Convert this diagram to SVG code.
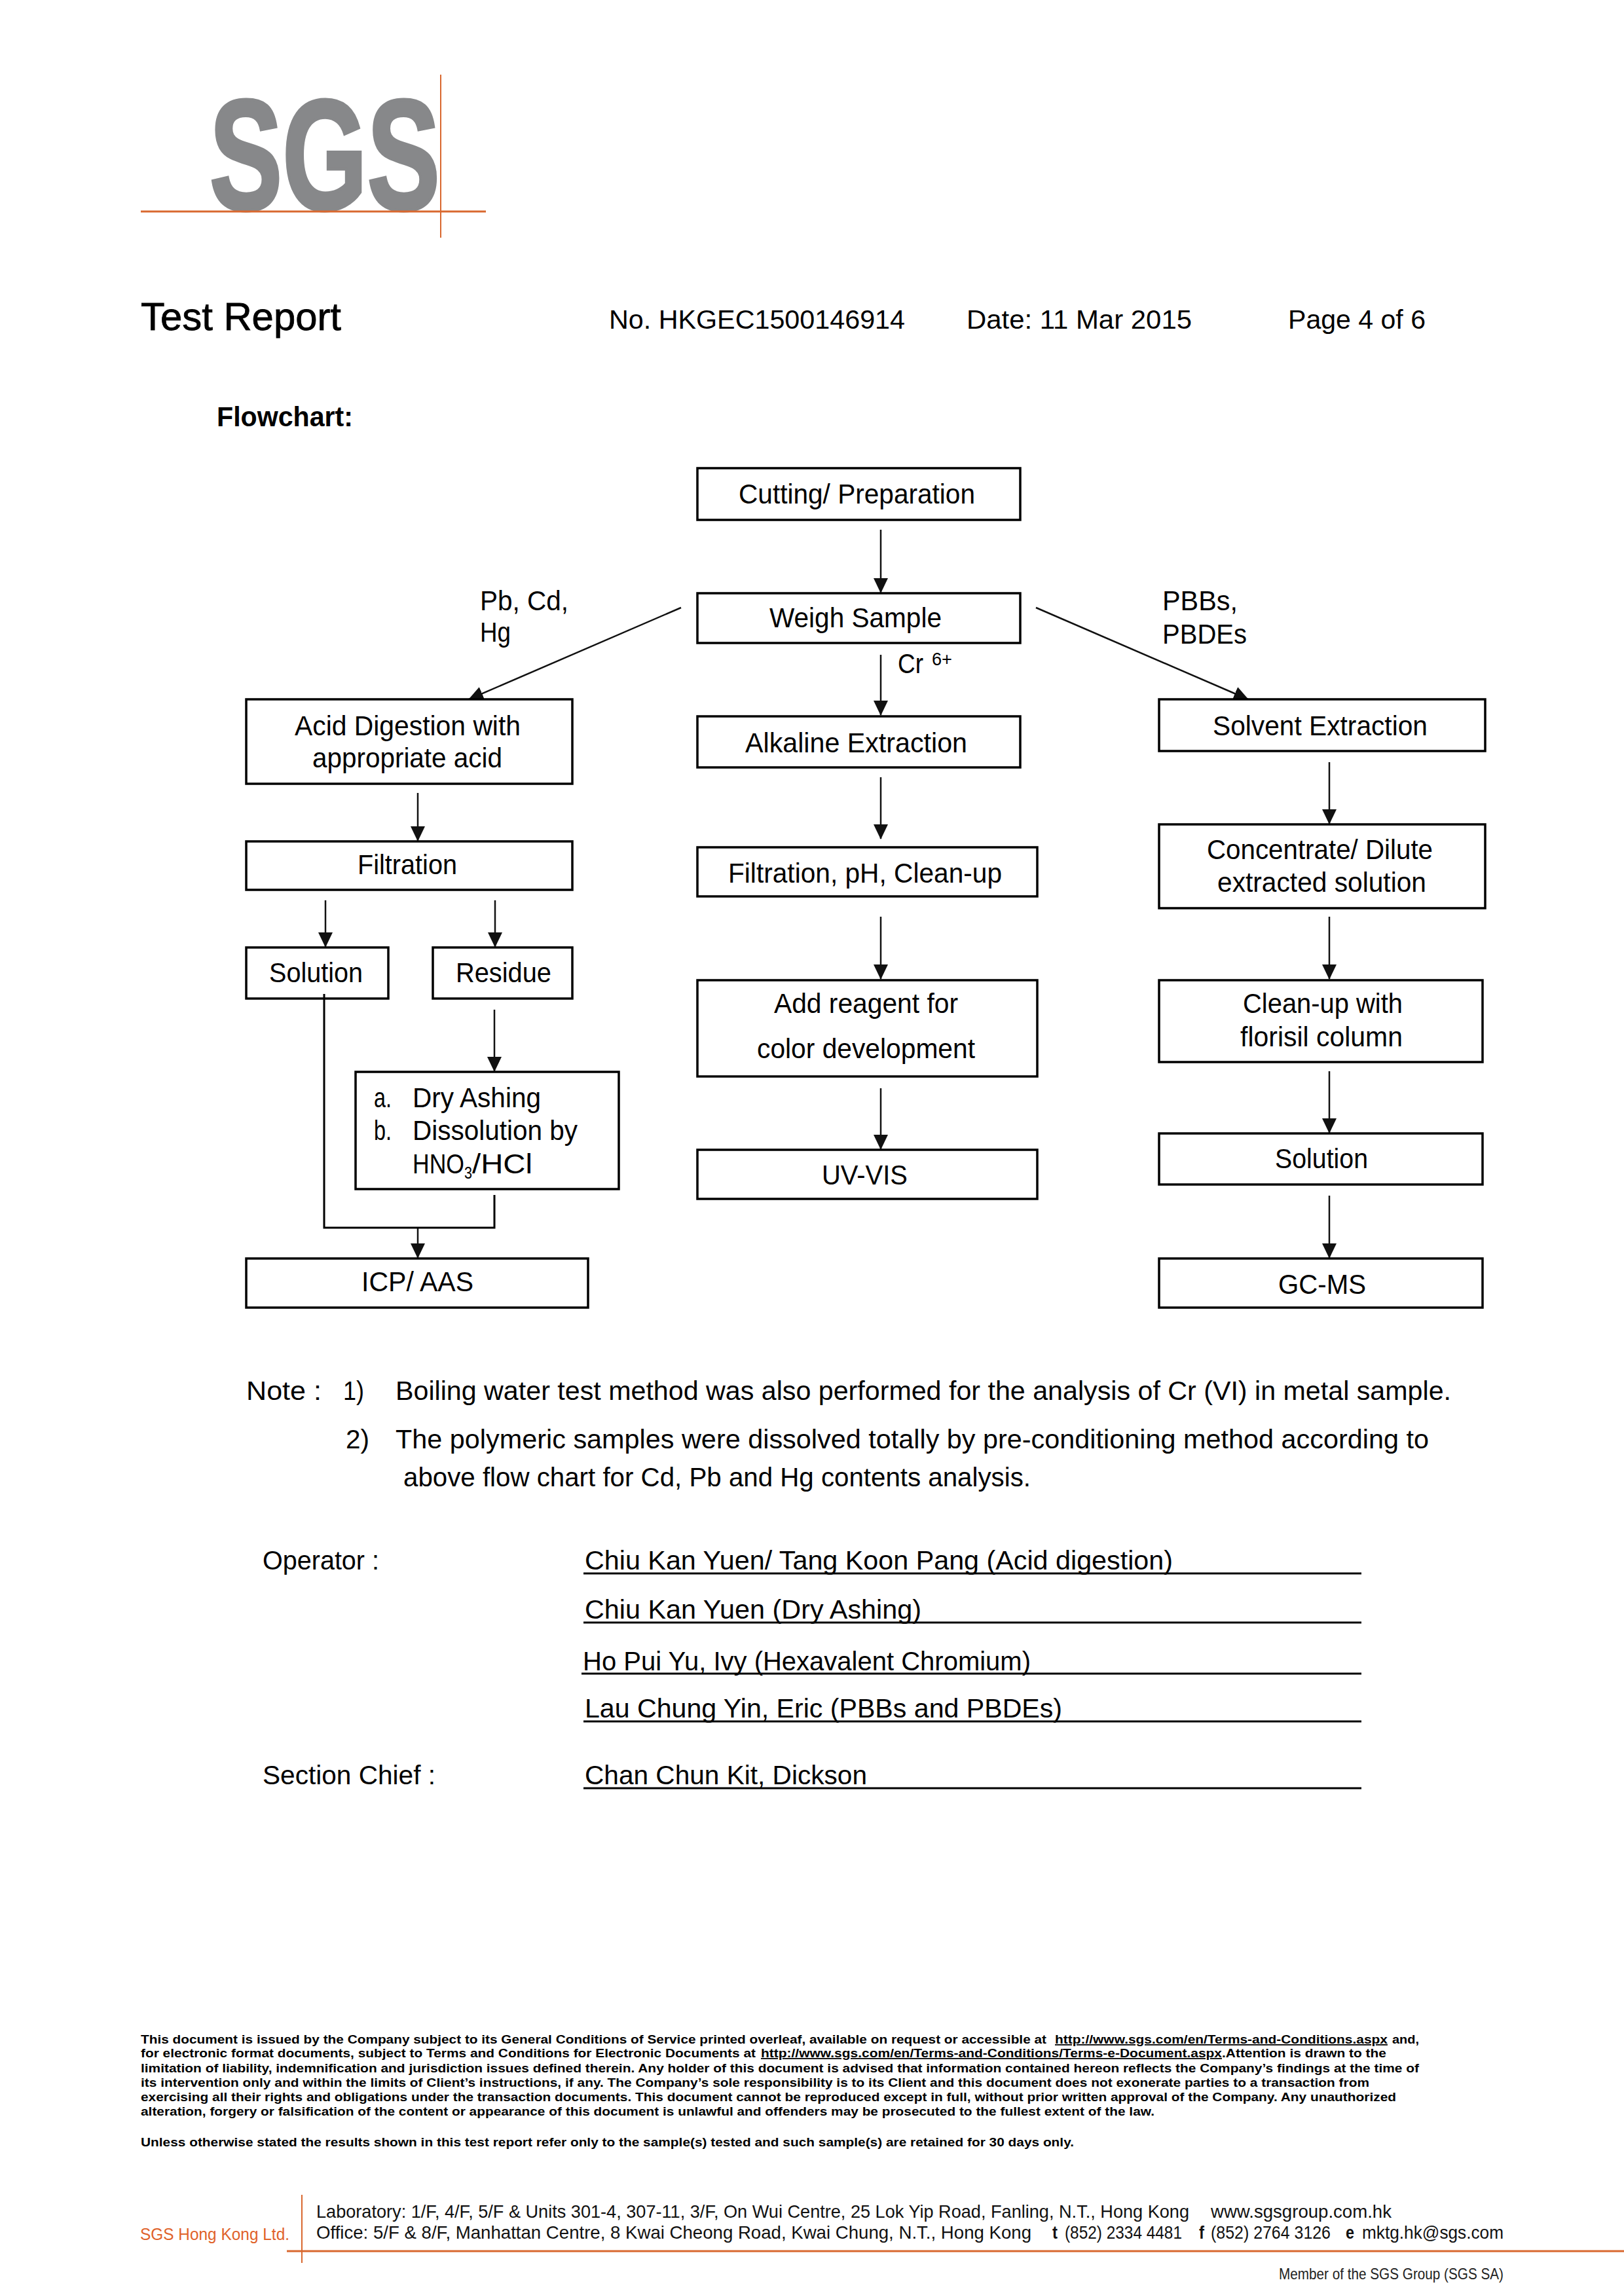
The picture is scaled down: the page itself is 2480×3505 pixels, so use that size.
<svg xmlns="http://www.w3.org/2000/svg" width="2480" height="3505" viewBox="0 0 2480 3505">
<style>
text{font-family:"Liberation Sans",Arial,sans-serif;fill:#000}
.n{font-size:42px}
.s{font-size:40px}
.h{font-size:40px}
.f{font-size:18px;font-weight:bold}
.u{text-decoration:underline}
.a{font-size:28px;fill:#111}
.box{fill:#fff;stroke:#000;stroke-width:3.5}
.c{fill:none;stroke:#111;stroke-width:2.5}
.o{stroke:#d9682f;fill:none}
.r{stroke:#000;stroke-width:3;fill:none}
</style>
<defs>
<marker id="arr" markerUnits="userSpaceOnUse" markerWidth="24" markerHeight="24" viewBox="0 0 24 24" refX="22" refY="12" orient="auto">
<polygon points="0,1 23,12 0,23" fill="#111"/>
</marker>
</defs>
<rect width="2480" height="3505" fill="#fff"/>

<g id="header">
<text x="320" y="320" font-size="240" font-weight="bold" textLength="352" lengthAdjust="spacingAndGlyphs" style="fill:#87888a;stroke:#87888a;stroke-width:5">SGS</text>
<line class="o" x1="215" y1="323" x2="742" y2="323" stroke-width="3"/>
<line class="o" x1="673" y1="114" x2="673" y2="363" stroke-width="2"/>
<text x="215" y="504" font-size="59" textLength="306" lengthAdjust="spacingAndGlyphs" style="stroke:#000;stroke-width:.8">Test Report</text>
<text class="h" x="930" y="502" textLength="452" lengthAdjust="spacingAndGlyphs">No. HKGEC1500146914</text>
<text class="h" x="1476" y="502" textLength="344" lengthAdjust="spacingAndGlyphs">Date: 11 Mar 2015</text>
<text class="h" x="1967" y="502" textLength="210" lengthAdjust="spacingAndGlyphs">Page 4 of 6</text>
<text x="331" y="651" font-size="42" font-weight="bold" textLength="208" lengthAdjust="spacingAndGlyphs">Flowchart:</text>
</g>

<g id="connectors">
<path class="c" marker-end="url(#arr)" d="M1345 809V905"/>
<path class="c" marker-end="url(#arr)" d="M1345 1000V1092"/>
<path class="c" marker-end="url(#arr)" d="M1345 1187V1281"/>
<path class="c" marker-end="url(#arr)" d="M1345 1400V1495"/>
<path class="c" marker-end="url(#arr)" d="M1345 1662V1755"/>
<path class="c" marker-end="url(#arr)" d="M2030 1164V1258"/>
<path class="c" marker-end="url(#arr)" d="M2030 1400V1495"/>
<path class="c" marker-end="url(#arr)" d="M2030 1636V1730"/>
<path class="c" marker-end="url(#arr)" d="M2030 1826V1921"/>
<path class="c" marker-end="url(#arr)" d="M638 1211V1284"/>
<path class="c" marker-end="url(#arr)" d="M497 1375V1446"/>
<path class="c" marker-end="url(#arr)" d="M756 1375V1446"/>
<path class="c" marker-end="url(#arr)" d="M755 1542V1636"/>
<path class="c" marker-end="url(#arr)" d="M638 1875V1921"/>
<path class="c" marker-end="url(#arr)" d="M1040 928L716 1068"/>
<path class="c" marker-end="url(#arr)" d="M1582 928L1906 1068"/>
</g>

<g id="node-cutting"><rect class="box" x="1065" y="715" width="493" height="79"/><text class="n" x="1128" y="769" textLength="361" lengthAdjust="spacingAndGlyphs">Cutting/ Preparation</text></g>
<g id="node-weigh"><rect class="box" x="1065" y="906" width="493" height="76"/><text class="n" x="1175" y="958" textLength="263" lengthAdjust="spacingAndGlyphs">Weigh Sample</text></g>
<g id="node-alkaline"><rect class="box" x="1065" y="1094" width="493" height="78"/><text class="n" x="1138" y="1149" textLength="339" lengthAdjust="spacingAndGlyphs">Alkaline Extraction</text></g>
<g id="node-filtration-ph"><rect class="box" x="1065" y="1294" width="519" height="75"/><text class="n" x="1112" y="1348" textLength="418" lengthAdjust="spacingAndGlyphs">Filtration, pH, Clean-up</text></g>
<g id="node-reagent"><rect class="box" x="1065" y="1497" width="519" height="147"/><text class="n" x="1182" y="1547" textLength="281" lengthAdjust="spacingAndGlyphs">Add reagent for</text><text class="n" x="1156" y="1616" textLength="333" lengthAdjust="spacingAndGlyphs">color development</text></g>
<g id="node-uvvis"><rect class="box" x="1065" y="1756" width="519" height="75"/><text class="n" x="1255" y="1809" textLength="131" lengthAdjust="spacingAndGlyphs">UV-VIS</text></g>

<g id="node-acid"><rect class="box" x="376" y="1068" width="498" height="129"/><text class="n" x="450" y="1123" textLength="345" lengthAdjust="spacingAndGlyphs">Acid Digestion with</text><text class="n" x="477" y="1172" textLength="290" lengthAdjust="spacingAndGlyphs">appropriate acid</text></g>
<g id="node-filtration"><rect class="box" x="376" y="1285" width="498" height="74"/><text class="n" x="546" y="1335" textLength="152" lengthAdjust="spacingAndGlyphs">Filtration</text></g>
<g id="node-solution-left"><rect class="box" x="376" y="1447" width="217" height="78"/><text class="n" x="411" y="1500" textLength="143" lengthAdjust="spacingAndGlyphs">Solution</text></g>
<g id="node-residue"><rect class="box" x="661" y="1447" width="213" height="78"/><text class="n" x="696" y="1500" textLength="146" lengthAdjust="spacingAndGlyphs">Residue</text></g>
<g id="node-ashing"><rect class="box" x="543" y="1637" width="402" height="179"/>
<text class="n" x="571" y="1691" textLength="27" lengthAdjust="spacingAndGlyphs">a.</text><text class="n" x="630" y="1691" textLength="196" lengthAdjust="spacingAndGlyphs">Dry Ashing</text>
<text class="n" x="571" y="1741" textLength="27" lengthAdjust="spacingAndGlyphs">b.</text><text class="n" x="630" y="1741" textLength="252" lengthAdjust="spacingAndGlyphs">Dissolution by</text>
<text class="n" x="630" y="1792" textLength="79" lengthAdjust="spacingAndGlyphs">HNO</text><text x="709" y="1800" font-size="26" textLength="12" lengthAdjust="spacingAndGlyphs">3</text><text class="n" x="721" y="1792" textLength="92" lengthAdjust="spacingAndGlyphs">/HCl</text></g>
<g id="connector-merge"><path class="r" d="M495 1518V1875H755V1825"/></g>
<g id="node-icp"><rect class="box" x="376" y="1922" width="522" height="75"/><text class="n" x="552" y="1972" textLength="171" lengthAdjust="spacingAndGlyphs">ICP/ AAS</text></g>

<g id="node-solvent"><rect class="box" x="1770" y="1068" width="498" height="79"/><text class="n" x="1852" y="1123" textLength="328" lengthAdjust="spacingAndGlyphs">Solvent Extraction</text></g>
<g id="node-concentrate"><rect class="box" x="1770" y="1259" width="498" height="128"/><text class="n" x="1843" y="1312" textLength="345" lengthAdjust="spacingAndGlyphs">Concentrate/ Dilute</text><text class="n" x="1859" y="1362" textLength="319" lengthAdjust="spacingAndGlyphs">extracted solution</text></g>
<g id="node-cleanup"><rect class="box" x="1770" y="1497" width="494" height="125"/><text class="n" x="1898" y="1547" textLength="244" lengthAdjust="spacingAndGlyphs">Clean-up with</text><text class="n" x="1894" y="1598" textLength="248" lengthAdjust="spacingAndGlyphs">florisil column</text></g>
<g id="node-solution-right"><rect class="box" x="1770" y="1731" width="494" height="78"/><text class="n" x="1947" y="1784" textLength="142" lengthAdjust="spacingAndGlyphs">Solution</text></g>
<g id="node-gcms"><rect class="box" x="1770" y="1922" width="494" height="75"/><text class="n" x="1952" y="1976" textLength="134" lengthAdjust="spacingAndGlyphs">GC-MS</text></g>

<g id="edge-labels">
<text class="n" x="733" y="932" textLength="135" lengthAdjust="spacingAndGlyphs">Pb, Cd,</text>
<text class="n" x="733" y="980" textLength="47" lengthAdjust="spacingAndGlyphs">Hg</text>
<text class="n" x="1775" y="932" textLength="115" lengthAdjust="spacingAndGlyphs">PBBs,</text>
<text class="n" x="1775" y="983" textLength="129" lengthAdjust="spacingAndGlyphs">PBDEs</text>
<text class="n" x="1371" y="1028" textLength="39" lengthAdjust="spacingAndGlyphs">Cr</text>
<text x="1423" y="1016" font-size="28" textLength="31" lengthAdjust="spacingAndGlyphs">6+</text>
</g>

<g id="notes">
<text class="s" x="376" y="2138" textLength="115" lengthAdjust="spacingAndGlyphs">Note  :</text>
<text class="s" x="524" y="2138" textLength="32" lengthAdjust="spacingAndGlyphs">1)</text>
<text class="s" x="604" y="2138" textLength="1612" lengthAdjust="spacingAndGlyphs">Boiling water test method was also performed for the analysis of Cr (VI) in metal sample.</text>
<text class="s" x="528" y="2212" textLength="36" lengthAdjust="spacingAndGlyphs">2)</text>
<text class="s" x="604" y="2212" textLength="1578" lengthAdjust="spacingAndGlyphs">The polymeric samples were dissolved totally by pre-conditioning method according to</text>
<text class="s" x="616" y="2270" textLength="958" lengthAdjust="spacingAndGlyphs">above flow chart for Cd, Pb and Hg contents analysis.</text>
</g>

<g id="signatures">
<text class="s" x="401" y="2397" textLength="178" lengthAdjust="spacingAndGlyphs">Operator :</text>
<text class="s" x="893" y="2397" textLength="898" lengthAdjust="spacingAndGlyphs">Chiu Kan Yuen/ Tang Koon Pang (Acid digestion)</text>
<line class="r" x1="891" y1="2403" x2="2079" y2="2403"/>
<text class="s" x="893" y="2472" textLength="514" lengthAdjust="spacingAndGlyphs">Chiu Kan Yuen (Dry Ashing)</text>
<line class="r" x1="891" y1="2478" x2="2079" y2="2478"/>
<text class="s" x="890" y="2551" textLength="684" lengthAdjust="spacingAndGlyphs">Ho Pui Yu, Ivy (Hexavalent Chromium)</text>
<line class="r" x1="888" y1="2556" x2="2079" y2="2556"/>
<text class="s" x="893" y="2623" textLength="729" lengthAdjust="spacingAndGlyphs">Lau Chung Yin, Eric (PBBs and PBDEs)</text>
<line class="r" x1="891" y1="2629" x2="2079" y2="2629"/>
<text class="s" x="401" y="2725" textLength="264" lengthAdjust="spacingAndGlyphs">Section Chief :</text>
<text class="s" x="893" y="2725" textLength="431" lengthAdjust="spacingAndGlyphs">Chan Chun Kit, Dickson</text>
<line class="r" x1="891" y1="2731" x2="2079" y2="2731"/>
</g>

<g id="disclaimer">
<text class="f" x="215" y="3121" textLength="1383" lengthAdjust="spacingAndGlyphs">This document is issued by the Company subject to its General Conditions of Service printed overleaf, available on request or accessible at</text>
<text class="f u" x="1611" y="3121" textLength="508" lengthAdjust="spacingAndGlyphs">http://www.sgs.com/en/Terms-and-Conditions.aspx</text>
<text class="f" x="2126" y="3121" textLength="41" lengthAdjust="spacingAndGlyphs">and,</text>
<text class="f" x="215" y="3142" textLength="939" lengthAdjust="spacingAndGlyphs">for electronic format documents, subject to Terms and Conditions for Electronic Documents at</text>
<text class="f u" x="1162" y="3142" textLength="704" lengthAdjust="spacingAndGlyphs">http://www.sgs.com/en/Terms-and-Conditions/Terms-e-Document.aspx</text>
<text class="f" x="1866" y="3142" textLength="251" lengthAdjust="spacingAndGlyphs">.Attention is drawn to the</text>
<text class="f" x="215" y="3165" textLength="1952" lengthAdjust="spacingAndGlyphs">limitation of liability, indemnification and jurisdiction issues defined therein. Any holder of this document is advised that information contained hereon reflects the Company’s findings at the time of</text>
<text class="f" x="215" y="3187" textLength="1876" lengthAdjust="spacingAndGlyphs">its intervention only and within the limits of Client’s instructions, if any. The Company’s sole responsibility is to its Client and this document does not exonerate parties to a transaction from</text>
<text class="f" x="215" y="3209" textLength="1917" lengthAdjust="spacingAndGlyphs">exercising all their rights and obligations under the transaction documents. This document cannot be reproduced except in full, without prior written approval of the Company. Any unauthorized</text>
<text class="f" x="215" y="3231" textLength="1548" lengthAdjust="spacingAndGlyphs">alteration, forgery or falsification of the content or appearance of this document is unlawful and offenders may be prosecuted to the fullest extent of the law.</text>
<text class="f" x="215" y="3278" textLength="1425" lengthAdjust="spacingAndGlyphs">Unless otherwise stated the results shown in this test report refer only to the sample(s) tested and such sample(s) are retained for 30 days only.</text>
</g>

<g id="footer">
<text x="214" y="3421" font-size="25" textLength="228" lengthAdjust="spacingAndGlyphs" style="fill:#e0622a">SGS Hong Kong Ltd.</text>
<line class="o" x1="461" y1="3352" x2="461" y2="3456" stroke-width="2"/>
<line class="o" x1="438" y1="3438" x2="2480" y2="3438" stroke-width="3"/>
<text class="a" x="483" y="3387" textLength="1333" lengthAdjust="spacingAndGlyphs">Laboratory: 1/F, 4/F, 5/F &amp; Units 301-4, 307-11, 3/F, On Wui Centre, 25 Lok Yip Road, Fanling, N.T., Hong Kong</text>
<text class="a" x="1849" y="3387" textLength="276" lengthAdjust="spacingAndGlyphs">www.sgsgroup.com.hk</text>
<text class="a" x="483" y="3419" textLength="1092" lengthAdjust="spacingAndGlyphs">Office: 5/F &amp; 8/F, Manhattan Centre, 8 Kwai Cheong Road, Kwai Chung, N.T., Hong Kong</text>
<text class="a" x="1607" y="3419" font-weight="bold" textLength="8" lengthAdjust="spacingAndGlyphs">t</text>
<text class="a" x="1626" y="3419" textLength="179" lengthAdjust="spacingAndGlyphs">(852) 2334 4481</text>
<text class="a" x="1831" y="3419" font-weight="bold" textLength="8" lengthAdjust="spacingAndGlyphs">f</text>
<text class="a" x="1849" y="3419" textLength="183" lengthAdjust="spacingAndGlyphs">(852) 2764 3126</text>
<text class="a" x="2055" y="3419" font-weight="bold" textLength="13" lengthAdjust="spacingAndGlyphs">e</text>
<text class="a" x="2080" y="3419" textLength="216" lengthAdjust="spacingAndGlyphs">mktg.hk@sgs.com</text>
<text x="1953" y="3481" font-size="24" textLength="343" lengthAdjust="spacingAndGlyphs" style="fill:#222">Member of the SGS Group (SGS SA)</text>
</g>
</svg>
